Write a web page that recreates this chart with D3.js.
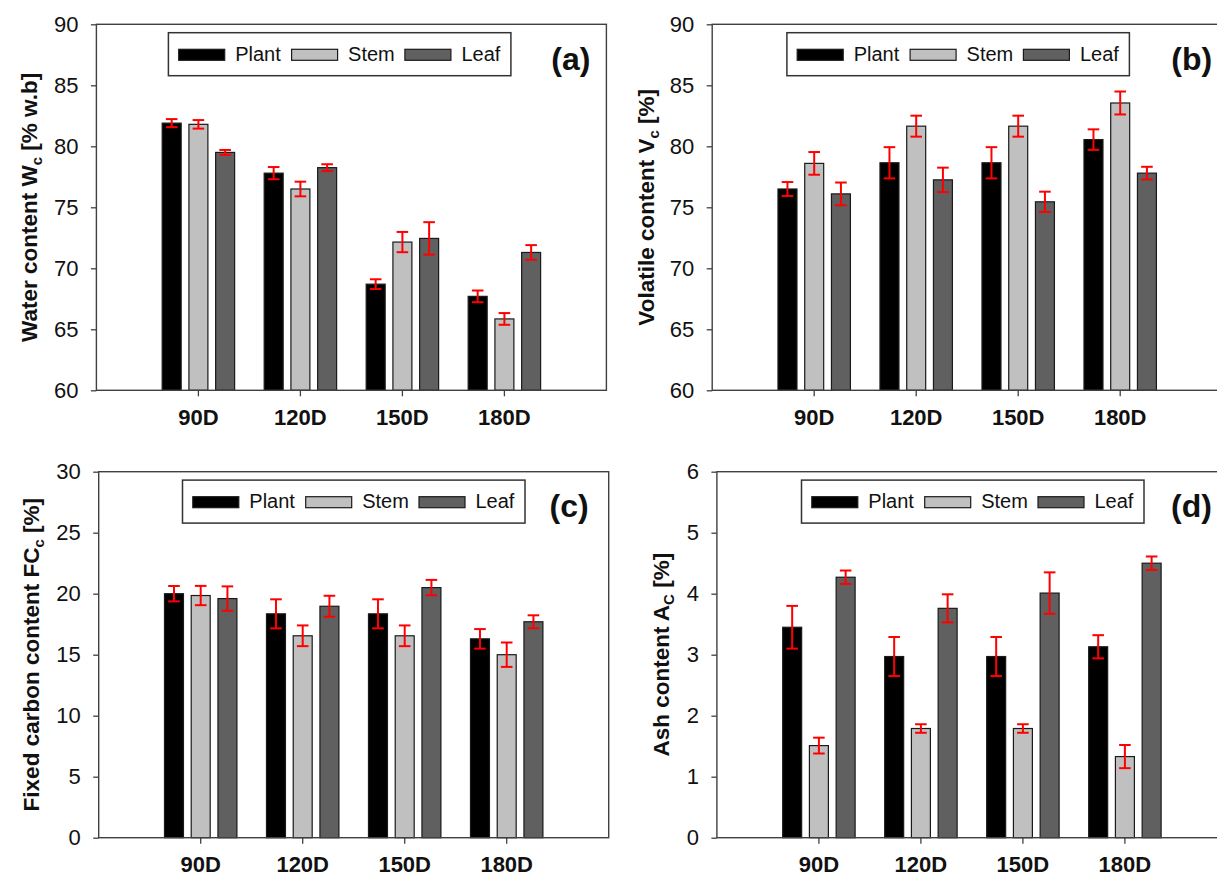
<!DOCTYPE html>
<html>
<head>
<meta charset="utf-8">
<script src="https://cdn.jsdelivr.net/npm/d3@7"></script>
<style>
body { margin: 0; background: #fff; }
svg { font-family: Arial, "Liberation Sans", sans-serif; }
</style>
</head>
<body>
<div id="chart"></div>
<script>
var days = ["90D", "120D", "150D", "180D"];
var parts = ["Plant", "Stem", "Leaf"];
var partColors = ["#000000", "#c0c0c0", "#606060"];

// (a) water content
var waterPlant = [81.9, 77.8, 68.7, 67.7],
    waterPlantErr = [0.33, 0.5, 0.4, 0.48];
var waterStem = [81.8, 76.5, 72.15, 65.85],
    waterStemErr = [0.35, 0.6, 0.83, 0.48];
var waterLeaf = [79.5, 78.25, 72.45, 71.3],
    waterLeafErr = [0.2, 0.28, 1.33, 0.6];

// (b) volatile content
var volPlant = [76.5, 78.65, 78.65, 80.55],
    volPlantErr = [0.57, 1.28, 1.28, 0.84];
var volStem = [78.6, 81.65, 81.65, 83.55],
    volStemErr = [0.93, 0.86, 0.86, 0.94];
var volLeaf = [76.1, 77.25, 75.45, 77.8],
    volLeafErr = [0.93, 1.0, 0.83, 0.52];

// (c) fixed carbon content
var fcPlant = [20.0, 18.35, 18.35, 16.3],
    fcPlantErr = [0.63, 1.19, 1.19, 0.8];
var fcStem = [19.85, 16.55, 16.55, 15.0],
    fcStemErr = [0.79, 0.85, 0.85, 1.0];
var fcLeaf = [19.6, 18.97, 20.5, 17.7],
    fcLeafErr = [1.0, 0.86, 0.63, 0.53];

// (d) ash content
var ashPlant = [3.45, 2.97, 2.97, 3.13],
    ashPlantErr = [0.35, 0.32, 0.32, 0.19];
var ashStem = [1.51, 1.79, 1.79, 1.33],
    ashStemErr = [0.13, 0.07, 0.07, 0.19];
var ashLeaf = [4.27, 3.76, 4.01, 4.50],
    ashLeafErr = [0.11, 0.23, 0.34, 0.11];

var waterTicks = [60, 65, 70, 75, 80, 85, 90];
var volTicks = [60, 65, 70, 75, 80, 85, 90];
var fcTicks = [0, 5, 10, 15, 20, 25, 30];
var ashTicks = [0, 1, 2, 3, 4, 5, 6];

var svg = d3.select("#chart").append("svg")
    .attr("width", 1217)
    .attr("height", 877);

var panels = [
    { tag: "(a)", title: ["Water content W", "c", " [% w.b]"], ticks: waterTicks,
      means: [waterPlant, waterStem, waterLeaf], errs: [waterPlantErr, waterStemErr, waterLeafErr],
      left: 96.4, top: 24.3, legendX: 72, tagX: 494, titleGap: 59 },
    { tag: "(b)", title: ["Volatile content V", "c", " [%]"], ticks: volTicks,
      means: [volPlant, volStem, volLeaf], errs: [volPlantErr, volStemErr, volLeafErr],
      left: 712.2, top: 24.3, legendX: 74.7, tagX: 500, titleGap: 58 },
    { tag: "(c)", title: ["Fixed carbon content FC", "c", " [%]"], ticks: fcTicks,
      means: [fcPlant, fcStem, fcLeaf], errs: [fcPlantErr, fcStemErr, fcLeafErr],
      left: 98.7, top: 471.7, legendX: 83.8, tagX: 490, titleGap: 60 },
    { tag: "(d)", title: ["Ash content A", "C", " [%]"], ticks: ashTicks,
      means: [ashPlant, ashStem, ashLeaf], errs: [ashPlantErr, ashStemErr, ashLeafErr],
      left: 716.9, top: 471.7, legendX: 84.6, tagX: 495, titleGap: 48 }
];

panels.forEach(drawPanel);

function drawPanel(p) {
    var w = 510, h = 366;
    var g = svg.append("g").attr("transform", "translate(" + p.left + "," + p.top + ")");

    var x = d3.scaleBand().domain(days).range([0, w]).paddingInner(0).paddingOuter(0.5);
    var xs = d3.scaleBand().domain(parts).range([0, x.bandwidth()])
        .paddingInner(0.29).paddingOuter(0.553);
    var y = d3.scaleLinear().domain(d3.extent(p.ticks)).range([h, 0]);

    // axes
    var yAxis = g.append("g")
        .call(d3.axisLeft(y).tickValues(p.ticks).tickFormat(d3.format("d"))
            .tickSize(5.5).tickPadding(12.5));
    yAxis.select(".domain").remove();
    yAxis.selectAll("line").attr("stroke", "#404040").attr("stroke-width", 1.3);
    yAxis.selectAll("text").attr("font-size", "22px").attr("fill", "#111")
        .style("font-family", "Arial, 'Liberation Sans', sans-serif");

    var xAxis = g.append("g")
        .attr("transform", "translate(0," + h + ")")
        .call(d3.axisBottom(x).tickSize(6).tickPadding(13));
    xAxis.select(".domain").remove();
    xAxis.selectAll("line").attr("stroke", "#404040").attr("stroke-width", 1.3);
    xAxis.selectAll("text").attr("font-size", "22px").attr("font-weight", "bold").attr("fill", "#111")
        .style("font-family", "Arial, 'Liberation Sans', sans-serif");

    // bars
    parts.forEach(function (part, i) {
        g.selectAll(".bar-" + i)
            .data(days)
            .enter().append("rect")
            .attr("class", "bar-" + i)
            .attr("x", function (d) { return x(d) + xs(part); })
            .attr("width", xs.bandwidth())
            .attr("y", function (d, j) { return y(p.means[i][j]); })
            .attr("height", function (d, j) { return h - y(p.means[i][j]); })
            .attr("fill", partColors[i])
            .attr("stroke", "#1a1a1a")
            .attr("stroke-width", 1.2);
    });

    // error bars
    var cap = 5.8;
    parts.forEach(function (part, i) {
        days.forEach(function (d, j) {
            var cx = x(d) + xs(part) + xs.bandwidth() / 2,
                lo = y(p.means[i][j] - p.errs[i][j]),
                hi = y(p.means[i][j] + p.errs[i][j]);
            var e = g.append("g").attr("stroke", "#ff0000").attr("stroke-width", 2);
            e.append("line").attr("x1", cx).attr("x2", cx).attr("y1", lo).attr("y2", hi);
            e.append("line").attr("x1", cx - cap).attr("x2", cx + cap).attr("y1", lo).attr("y2", lo);
            e.append("line").attr("x1", cx - cap).attr("x2", cx + cap).attr("y1", hi).attr("y2", hi);
        });
    });

    // frame
    g.append("rect")
        .attr("width", w)
        .attr("height", h)
        .attr("fill", "none")
        .attr("stroke", "#404040")
        .attr("stroke-width", 1.4);

    // legend
    var lg = g.append("g").attr("transform", "translate(" + p.legendX + ",8.4)");
    lg.append("rect")
        .attr("width", 342.5).attr("height", 43)
        .attr("fill", "#fff").attr("stroke", "#333").attr("stroke-width", 1.5);
    var itemX = [10.3, 123.2, 236.5];
    parts.forEach(function (part, i) {
        lg.append("rect")
            .attr("x", itemX[i]).attr("y", 16.6)
            .attr("width", 46).attr("height", 11)
            .attr("fill", partColors[i]).attr("stroke", "#1a1a1a").attr("stroke-width", 1.2);
        lg.append("text")
            .attr("x", itemX[i] + 56.5).attr("y", 28.2)
            .attr("font-size", "20px").attr("fill", "#111")
            .text(part);
    });

    // panel tag
    g.append("text")
        .attr("x", p.tagX).attr("y", 45.5)
        .attr("text-anchor", "end")
        .attr("font-size", "32px").attr("font-weight", "bold").attr("fill", "#111")
        .text(p.tag);

    // y title
    var t = g.append("text")
        .attr("transform", "translate(" + (-p.titleGap) + "," + (h / 2) + ") rotate(-90)")
        .attr("text-anchor", "middle")
        .attr("font-size", "22.5px").attr("font-weight", "bold").attr("fill", "#111");
    t.append("tspan").text(p.title[0]);
    t.append("tspan").attr("font-size", "15px").attr("dy", 5).text(p.title[1]);
    t.append("tspan").attr("dy", -5).text(p.title[2]);
}
</script>
</body>
</html>
